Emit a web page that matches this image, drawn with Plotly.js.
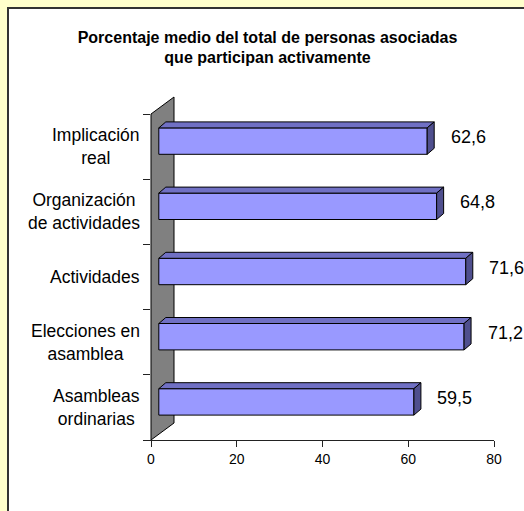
<!DOCTYPE html>
<html>
<head>
<meta charset="utf-8">
<script src="https://cdn.plot.ly/plotly-3.0.1.min.js"></script>
<style>html,body{margin:0;padding:0;background:#FFFFCC;}#chart{width:524px;height:511px;}</style>
</head>
<body>
<div id="chart"></div>
<script>
// ---- data ----
const categories = ['Asambleas<br>ordinarias', 'Elecciones en<br>asamblea', 'Actividades', 'Organización<br>de actividades', 'Implicación<br>real'];
const values = [59.5, 71.2, 71.6, 64.8, 62.6];
const xTickVals = [0, 20, 40, 60, 80];
const titleLine1 = 'Porcentaje medio del total de personas asociadas';
const titleLine2 = 'que participan activamente';

// ---- geometry (pixels) ----
const W = 524, H = 511;
const L = 143, R = 30, T = 90, B = 71;
const plotW = W - L - R, plotH = H - T - B;
const pxX = 343 / 80;                 // px per x unit
const xMin = -8 / pxX;
const pxY = 65.2;                     // px per category
const yMin = -0.5, yMax = yMin + plotH / pxY;
const ux = p => p / pxX;              // px -> x units
const uy = p => p / pxY;              // px -> y units (up)

const wallDx = ux(23), wallDy = uy(17);
const barOffX = ux(7.8), barOffY = uy(5.5);
const depDx = ux(7), depDy = uy(6);
const halfH = uy(13.2);

const n = categories.length;
const yLo = -0.5, yHi = n - 0.5;

// wall
const wall = {
  type: 'scatter', mode: 'lines', xaxis: 'x', yaxis: 'y',
  x: [0, 0, wallDx, wallDx, 0], y: [yLo, yHi, yHi + wallDy, yLo + wallDy, yLo],
  fill: 'toself', fillcolor: '#808080', line: {color: '#000', width: 1},
  hoverinfo: 'skip', showlegend: false
};

const yPos = values.map((v, i) => i + barOffY);

const front = {
  type: 'bar', orientation: 'h', xaxis: 'x2', yaxis: 'y2',
  x: values, y: yPos, base: barOffX, width: 2 * halfH,
  marker: {color: '#9999FF', line: {color: '#000', width: 1}},
  hoverinfo: 'skip', showlegend: false
};

const tx = [], ty = [], sx = [], sy = [];
values.forEach((v, i) => {
  const y0 = yPos[i] - halfH, y1 = yPos[i] + halfH;
  const x0 = barOffX, x1 = barOffX + v;
  tx.push(x0, x1, x1 + depDx, x0 + depDx, x0, null);
  ty.push(y1, y1, y1 + depDy, y1 + depDy, y1, null);
  sx.push(x1, x1, x1 + depDx, x1 + depDx, x1, null);
  sy.push(y0, y1, y1 + depDy, y0 + depDy, y0, null);
});
const topFaces = {
  type: 'scatter', mode: 'lines', xaxis: 'x2', yaxis: 'y2', x: tx, y: ty,
  fill: 'toself', fillcolor: '#7070C4', line: {color: '#000', width: 1},
  hoverinfo: 'skip', showlegend: false
};
const sideFaces = {
  type: 'scatter', mode: 'lines', xaxis: 'x2', yaxis: 'y2', x: sx, y: sy,
  fill: 'toself', fillcolor: '#4F4F8E', line: {color: '#000', width: 1},
  hoverinfo: 'skip', showlegend: false
};

// value labels as annotations anchored at the bar end (kept inside range), shifted right in px
const valueAnnotations = values.map((v, i) => ({
  text: v.toFixed(1).replace('.', ','), xref: 'x2', yref: 'y2',
  x: barOffX + v, y: yPos[i], xanchor: 'center', yanchor: 'middle',
  xshift: 41, yshift: 4, showarrow: false,
  font: {size: 18, color: '#000'}
}));

const categoryAnnotations = categories.map((c, i) => ({
  text: c, xref: 'paper', yref: 'y', x: 0, y: i,
  xanchor: 'right', yanchor: 'middle', align: 'center', xshift: -1,
  showarrow: false, font: {size: 17.5, color: '#000'}
}));

const layout = {
  width: W, height: H,
  margin: {l: L, r: R, t: T, b: B, pad: 0},
  paper_bgcolor: '#FFFFCC', plot_bgcolor: 'rgba(0,0,0,0)',
  font: {family: '"Liberation Sans", Arial, sans-serif', color: '#000'},
  showlegend: false,
  title: {
    text: '<b>' + titleLine1 + '<br>' + titleLine2 + '</b>',
    font: {size: 16, color: '#000'},
    x: 267.5 / W, xref: 'container', xanchor: 'center',
    y: 1 - 42.5 / H, yref: 'container', yanchor: 'middle'
  },
  xaxis: {
    range: [xMin, 80], tickvals: xTickVals, ticks: 'outside', ticklen: 6,
    tickcolor: '#222', showline: true, linecolor: '#222', linewidth: 1,
    showgrid: false, zeroline: false, tickfont: {size: 14}, fixedrange: true
  },
  yaxis: {
    range: [yMin, yMax], tickvals: categories.map((c, i) => i - 0.5).concat([n - 0.5]),
    ticks: 'inside', ticklen: 7, tickcolor: '#222', showticklabels: false,
    showgrid: false, zeroline: false, showline: false, fixedrange: true
  },
  xaxis2: {overlaying: 'x', range: [xMin, 80], visible: false, fixedrange: true},
  yaxis2: {overlaying: 'y', range: [yMin, yMax], visible: false, fixedrange: true},
  bargap: 0,
  annotations: categoryAnnotations.concat(valueAnnotations),
  shapes: [{
    type: 'rect', xref: 'paper', yref: 'paper', layer: 'below',
    x0: (8 - L) / plotW, x1: (W + 10 - L) / plotW,
    y0: (H - B - (H + 10)) / plotH, y1: (H - B - 8) / plotH,
    fillcolor: '#FFFFFF', line: {color: '#333', width: 2}
  }]
};

Plotly.newPlot('chart', [wall, front, topFaces, sideFaces], layout, {staticPlot: true, displayModeBar: false});
</script>
</body>
</html>
